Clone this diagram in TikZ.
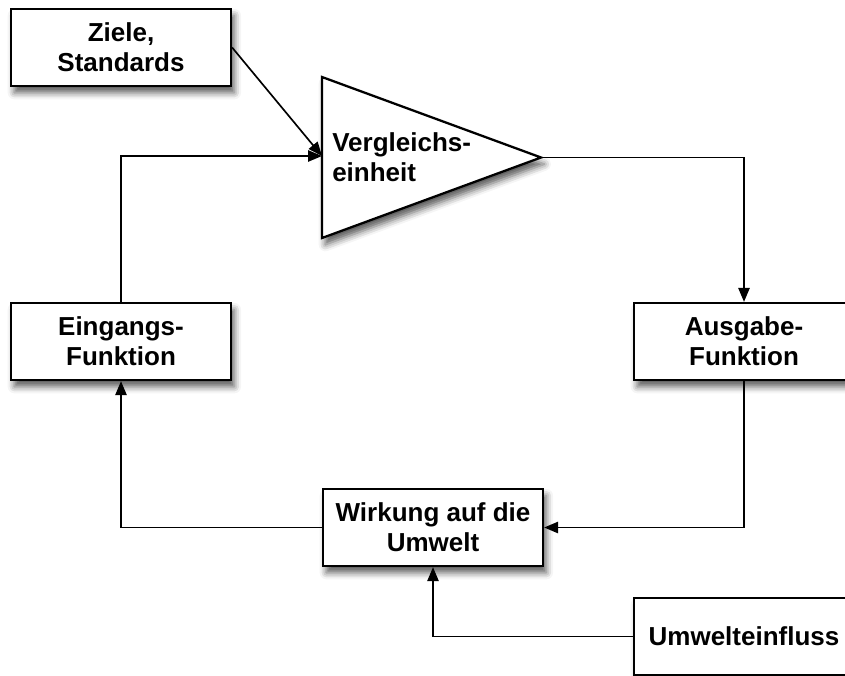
\documentclass[tikz,border=0pt]{standalone}
\usepackage{fontspec}
\setmainfont{Liberation Sans}
\usetikzlibrary{shadows.blur,arrows.meta}
\begin{document}
\begin{tikzpicture}[x=0.75pt,y=-0.75pt,
  shadowed/.style={blur shadow={shadow xshift=2.5pt,shadow yshift=-5pt,shadow blur radius=5pt,shadow opacity=65}},
  box/.style={draw=black,line width=1.7pt,fill=white,shadowed,
    minimum width=165pt,minimum height=57.75pt,inner sep=0pt,
    align=center,font=\fontsize{19.5}{22.5}\selectfont\bfseries},
  link/.style={draw=black,line width=1.25pt},
  arr/.style={link,-{Triangle[length=10.5pt,width=8.5pt]}}]
\useasboundingbox (0,0) rectangle (845,675);
\clip (0,0) rectangle (845,675);

% comparator triangle
\path[draw=black,line width=1.7pt,fill=white,shadowed,line join=miter]
  (322,77) -- (541,157.5) -- (322,238) -- cycle;
\coordinate (cmpIn) at (322,156);
\coordinate (cmpOut) at (541,157.5);
\node[anchor=base west,align=left,inner sep=0pt,
  font=\fontsize{19.5}{22.5}\selectfont\bfseries] (cmpText) at (332,181)
  {Vergleichs-\\einheit};

% boxes
\node[box] (goals) at (121,47.5) {Ziele,\\Standards};
\node[box] (inp) at (121,341.5) {Eingangs-\\Funktion};
\node[box] (outp) at (744,341.5) {Ausgabe-\\Funktion};
\node[box] (effect) at (433,527.5) {Wirkung auf die\\Umwelt};
\node[box] (env) at (744,636.5) {Umwelteinfluss};

% connectors
\draw[arr] (goals.east) -- (cmpIn);
\draw[arr] (inp.north) |- (cmpIn);
\draw[arr] (cmpOut) -| (outp.north);
\draw[arr] (outp.south) |- (effect.east);
\draw[arr] (effect.west) -| (inp.south);
\draw[arr] (env.west) -| (effect.south);
\end{tikzpicture}
\end{document}
